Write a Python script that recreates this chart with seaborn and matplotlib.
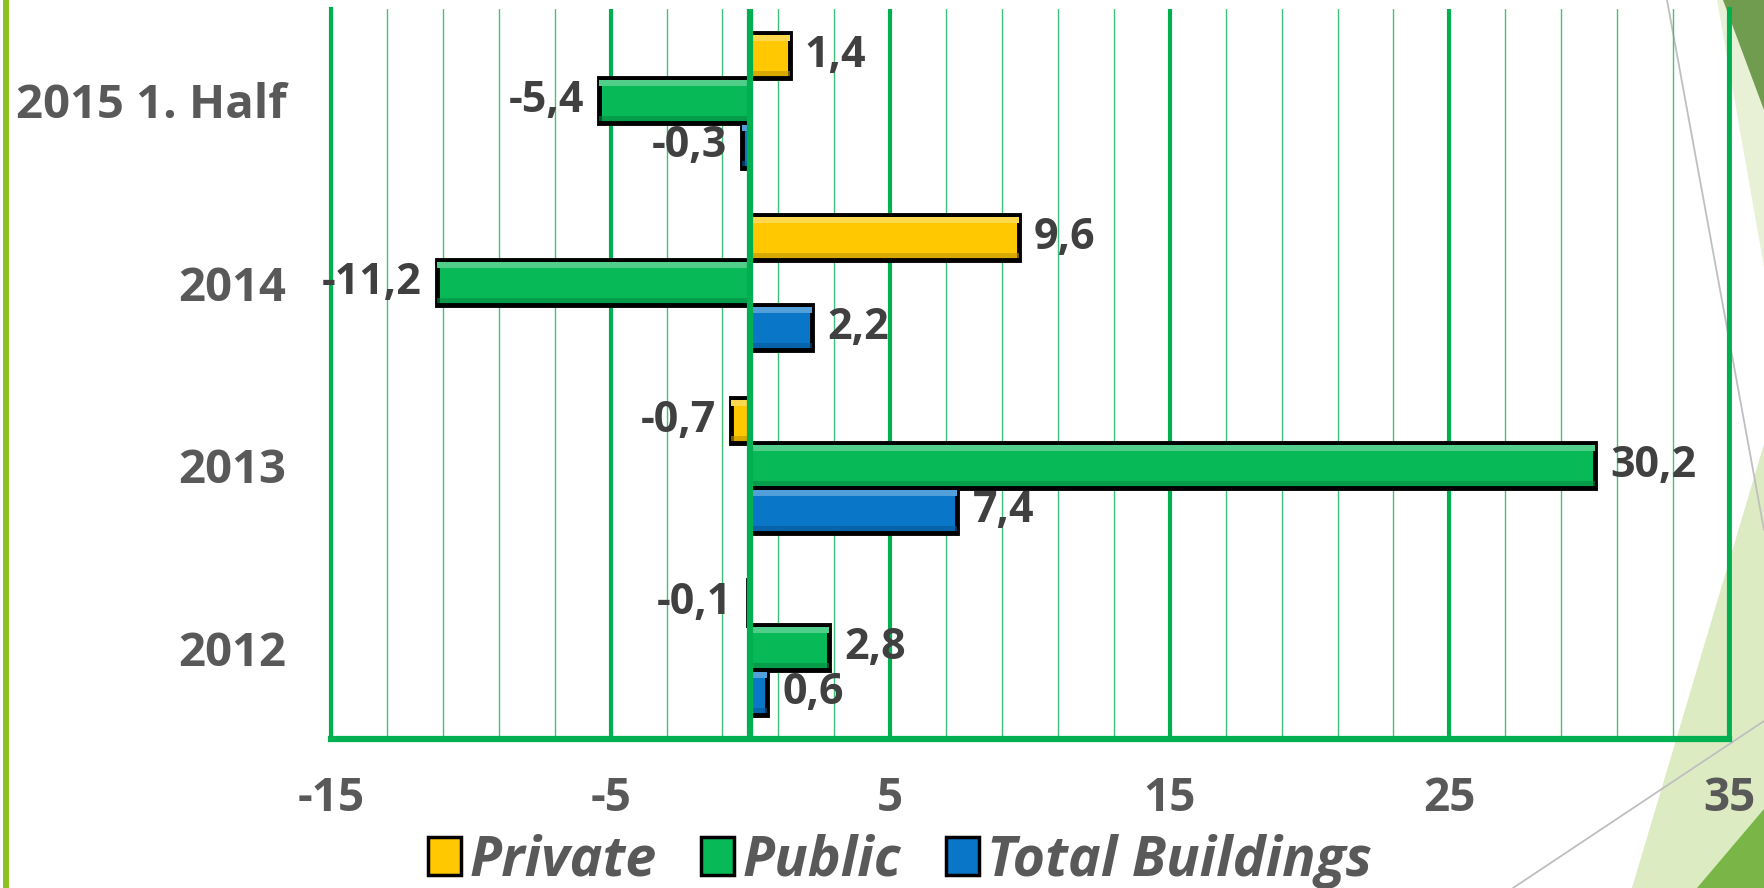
import matplotlib
matplotlib.use("Agg")
import matplotlib.pyplot as plt
from matplotlib.patches import Polygon, Patch, Rectangle
from matplotlib.lines import Line2D
import seaborn as sns
import pandas as pd
import numpy as np

# ---- data ----
categories = ["2015 1. Half", "2014", "2013", "2012"]
series = ["Private", "Public", "Total Buildings"]
private = [1.4, 9.6, -0.7, -0.1]
public = [-5.4, -11.2, 30.2, 2.8]
total = [-0.3, 2.2, 7.4, 0.6]
x_ticks = [-15, -5, 5, 15, 25, 35]

colors = ["#FFC800", "#07B957", "#0A76C8"]
GREEN = "#00B050"

sns.set_theme(style="white")
plt.rcParams["font.family"] = ["Open Sans", "DejaVu Sans"]
plt.rcParams["axes.unicode_minus"] = False

df = pd.DataFrame({
    "Period": categories * 3,
    "Series": [series[0]] * 4 + [series[1]] * 4 + [series[2]] * 4,
    "Value": private + public + total,
})

W, H = 1764, 888
fig = plt.figure(figsize=(W / 100, H / 100), dpi=100)
fig.patch.set_facecolor("white")


def fx(px):
    return px / W


def fy(py):
    return 1 - py / H


# ---- slide decorations (behind the chart) ----
deco = [
    ([(1717, 0), (1764, 0), (1764, 267)], "#E8F1D6"),
    ([(1723, 0), (1764, 0), (1764, 110)], "#709C50"),
    ([(1632, 888), (1764, 444), (1764, 888)], "#DDEBC3"),
    ([(1697, 888), (1764, 809), (1764, 888)], "#7AB548"),
]
for pts, c in deco:
    fig.patches.append(Polygon([(fx(a), fy(b)) for a, b in pts], closed=True,
                               transform=fig.transFigure, facecolor=c,
                               edgecolor="none", zorder=-2))
for (x0, y0), (x1, y1) in [((1667, 0), (1764, 530)), ((1513, 888), (1764, 721))]:
    fig.lines.append(Line2D([fx(x0), fx(x1)], [fy(y0), fy(y1)],
                            transform=fig.transFigure, color="#BFBFBF", lw=1.3, zorder=-1))
fig.patches.append(Rectangle((fx(3), 0), fx(6), 1, transform=fig.transFigure,
                             facecolor="#8DC21F", edgecolor="none", zorder=-1))

# ---- axes ----
ax = fig.add_axes([fx(331), fy(739), fx(1729 - 331), (739 - 9) / H])
ax.set_facecolor("none")
ax.set_zorder(1)

sns.barplot(data=df, y="Period", x="Value", hue="Series", order=categories,
            hue_order=series, palette=colors, width=0.74, orient="h",
            edgecolor="black", linewidth=3.5, saturation=1, legend=False, ax=ax)

# bevel-like highlights derived from drawn bars
for p in list(ax.patches):
    x, y, w, h = p.get_x(), p.get_y(), p.get_width(), p.get_height()
    fc = np.array(matplotlib.colors.to_rgb(p.get_facecolor()))
    light = tuple(fc + (1 - fc) * 0.3)
    dark = tuple(fc * 0.75)
    ax.add_patch(Rectangle((x, y + 0.04 * h), w, 0.14 * h, facecolor=light,
                           edgecolor="none", zorder=p.get_zorder() + 0.1))
    ax.add_patch(Rectangle((x, y + h * 0.84), w, 0.12 * h, facecolor=dark,
                           edgecolor="none", zorder=p.get_zorder() + 0.1, alpha=0.6))

for cont in ax.containers:
    ax.bar_label(cont, fmt=lambda v: f"{v:.1f}".replace(".", ","), padding=11,
                 fontsize=31, fontweight="bold", color="#404040")

ax.set_xlim(-15, 35)
ax.set_ylim(3.5, -0.5)

# gridlines
ax.set_xticks(x_ticks)
ax.set_xticks(np.arange(-15, 36, 2), minor=True)
ax.grid(axis="x", which="minor", color="#3FC27A", lw=1.0, zorder=0)
ax.grid(axis="x", which="major", color=GREEN, lw=3.0, zorder=0)
ax.set_axisbelow(True)
ax.axvline(0, color=GREEN, lw=4.5, zorder=5)

ax.spines["top"].set_visible(False)
for s, lw in [("bottom", 4.5), ("left", 3.0), ("right", 3.5)]:
    ax.spines[s].set_color(GREEN)
    ax.spines[s].set_linewidth(lw)

ax.tick_params(axis="x", which="both", length=0, pad=26, labelsize=33,
               labelcolor="#595959")
ax.tick_params(axis="y", length=0, pad=32, labelsize=34, labelcolor="#595959")
for t in ax.get_xticklabels() + ax.get_yticklabels():
    t.set_fontweight("bold")
ax.set_xlabel("")
ax.set_ylabel("")

# legend
handles = [Patch(facecolor=c, edgecolor="black", lw=2.5) for c in colors]
fig.legend(handles, series, loc="center", bbox_to_anchor=(fx(900), fy(861)),
           ncol=3, frameon=False, handlelength=0.6, handleheight=0.65,
           handletextpad=0.15, columnspacing=0.8,
           prop={"size": 40, "weight": "bold", "style": "italic"},
           labelcolor="#595959")

fig.savefig("out.png", dpi=100)
